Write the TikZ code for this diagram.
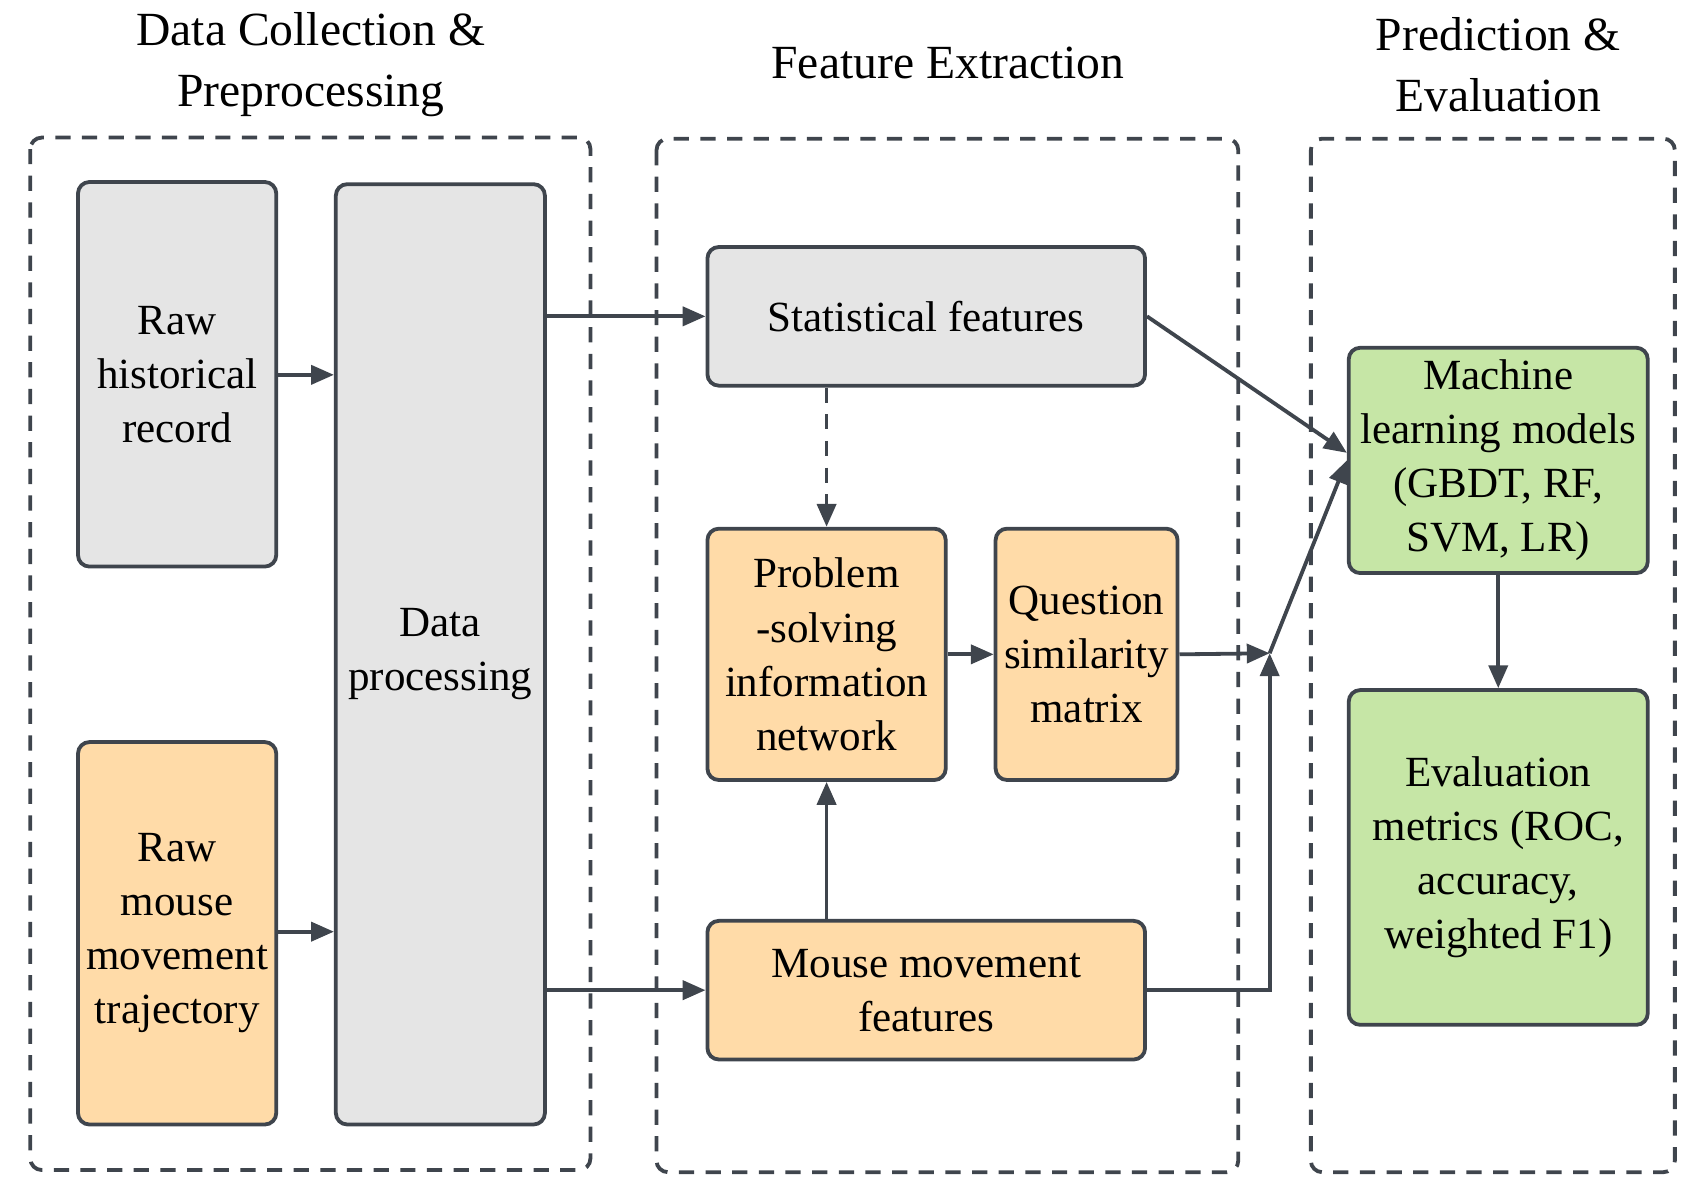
\documentclass[tikz,border=0pt]{standalone}
\usepackage{fontspec}
\setmainfont{Liberation Serif}
\usetikzlibrary{arrows.meta}
\definecolor{edge}{HTML}{3F454D}
\definecolor{grayfill}{HTML}{E5E5E5}
\definecolor{orangefill}{HTML}{FFDBA8}
\definecolor{greenfill}{HTML}{C6E6A6}
\tikzset{
  box/.style={draw=edge, line width=1pt, rounded corners=3pt, align=center,
    inner sep=0pt, font=\fontsize{11.3}{14.2}\selectfont},
  grey/.style={box, fill=grayfill},
  orange/.style={box, fill=orangefill},
  green/.style={box, fill=greenfill},
  group/.style={draw=edge, line width=1pt, dashed, dash pattern=on 4pt off 3pt, rounded corners=3pt},
  title/.style={align=center, font=\fontsize{12.5}{16}\selectfont},
  link/.style={draw=edge, line width=1pt, -{Triangle[length=6pt,width=5pt]}}
}
\begin{document}
\begin{tikzpicture}[x=0.1mm, y=-0.1mm]
\useasboundingbox (0,0) rectangle (1560,1090);
% Groups
    \draw[group] (28,127) rectangle (545,1080);
    \draw[group] (606,128) rectangle (1143,1082);
    \draw[group] (1210,128) rectangle (1546,1082);
    \node[title] (t1) at (287,60) {Data Collection \&\\Preprocessing};
    \node[title] (t2) at (875,58) {Feature Extraction};
    \node[title] (t3) at (1383,60) {Prediction \&\\Evaluation};
% Boxes
    \node[grey, minimum width=18.3mm, minimum height=35.5mm] (hist) at (163.5,345.5) {Raw\\historical\\record};
    \node[orange, minimum width=18.3mm, minimum height=35.3mm] (mouse) at (163.5,861.5) {Raw\\mouse\\movement\\trajectory};
    \node[grey, minimum width=19.3mm, minimum height=86.8mm] (proc) at (406.5,604) {Data\\processing};
    \node[grey, minimum width=40.4mm, minimum height=12.8mm] (stat) at (855,292) {Statistical features};
    \node[orange, minimum width=22mm, minimum height=23.2mm] (net) at (763,604) {Problem\\-solving\\information\\network};
    \node[orange, minimum width=16.8mm, minimum height=23.2mm] (sim) at (1003,604) {Question\\similarity\\matrix};
    \node[orange, minimum width=40.4mm, minimum height=12.8mm] (mfeat) at (855,914) {Mouse movement\\features};
    \node[green, minimum width=27.6mm, minimum height=20.8mm] (ml) at (1383,425) {Machine\\learning models\\(GBDT, RF,\\SVM, LR)};
    \node[green, minimum width=27.6mm, minimum height=30.9mm] (eval) at (1383,791.5) {Evaluation\\metrics (ROC,\\accuracy,\\weighted F1)};
    \coordinate (join) at (1172,603);
% Connectors
    \draw[link] (hist.east |- 0,346) -- (proc.west |- 0,346);
    \draw[link] (mouse.east |- 0,860) -- (proc.west |- 0,860);
    \draw[link] (proc.east |- stat.west) -- (stat.west);
    \draw[link] (proc.east |- mfeat.west) -- (mfeat.west);
    \draw[link, dashed, dash pattern=on 4pt off 3pt] (stat.south -| net.north) -- (net.north);
    \draw[link] (mfeat.north -| net.south) -- (net.south);
    \draw[link] (net.east) -- (sim.west);
    \draw[link] (sim.east) -- (join);
    \draw[link] (mfeat.east) -| (join);
    \draw[link] (join) -- (ml.west);
    \draw[link] (stat.east) -- (ml.west |- 0,418);
    \draw[link] (ml.south) -- (eval.north);
\end{tikzpicture}
\end{document}
